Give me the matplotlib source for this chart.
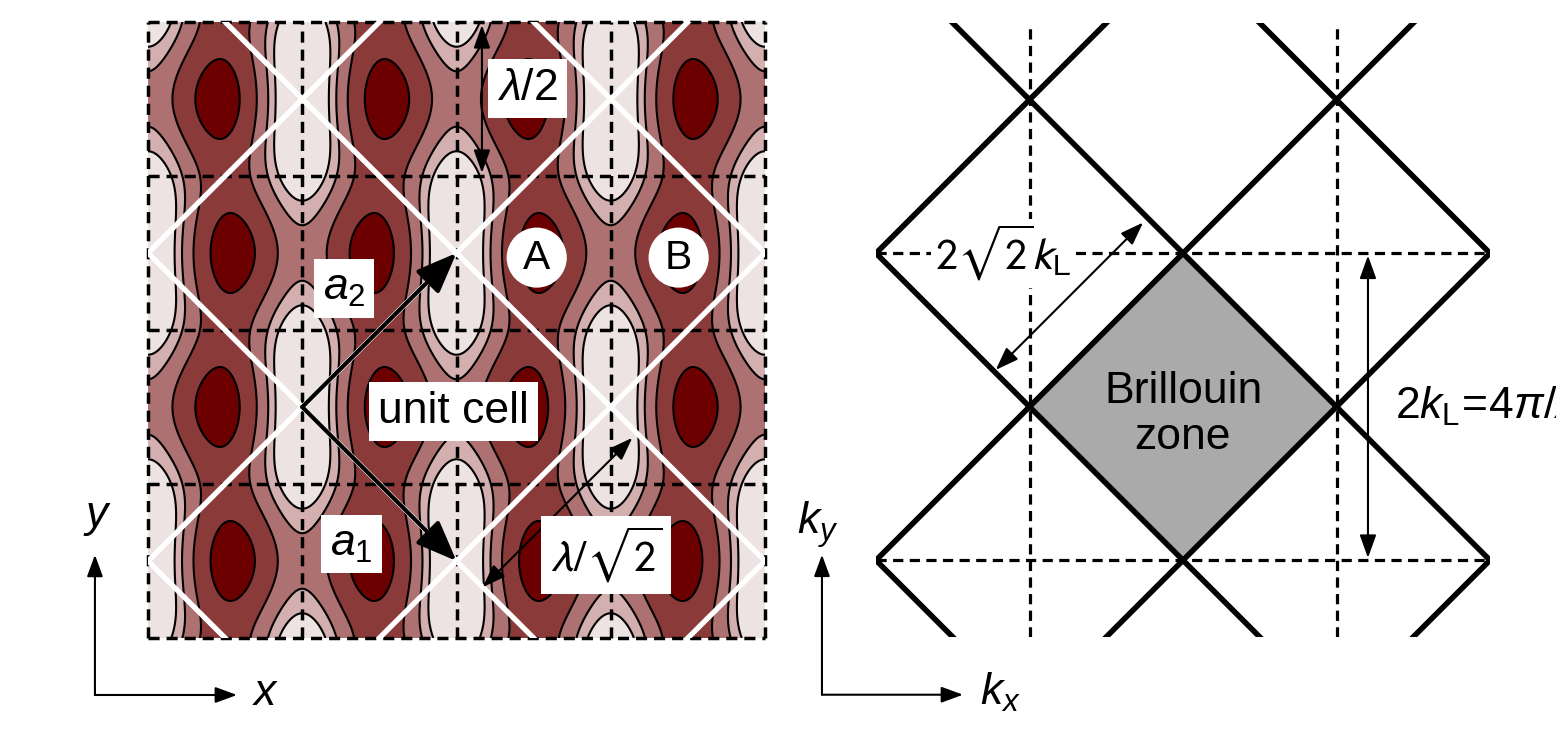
import numpy as np
import matplotlib.pyplot as plt
from matplotlib.colors import ListedColormap
from matplotlib.patches import Polygon, Circle

plt.rcParams['font.family'] = 'Liberation Sans'
plt.rcParams['mathtext.fontset'] = 'custom'
plt.rcParams['mathtext.rm'] = 'Liberation Sans'
plt.rcParams['mathtext.it'] = 'Liberation Sans:italic'
plt.rcParams['mathtext.bf'] = 'Liberation Sans:bold'

# real-space lattice, lengths in units of lambda/2
amp_stripe = 6.8      # standing wave along x
amp_row = 1.4         # extra depth along the site rows
amp_x = 1.0           # interfering x arm
amp_y = 1.0           # interfering y arm
levels = [-0.1, 2.2, 3.4, 5.4, 8.0, 10.5]
band_colors = ['#eee3e3', '#d3afaf', '#ad7171', '#8b3a3a', '#6c0000']

grid_lines = [0, 1, 2, 3, 4]
white_sum = [0.5, 2.5, 4.5, 6.5]     # x + y = c
white_diff = [-3.5, -1.5, 0.5, 2.5]  # y - x = c

cell_origin = (1.0, 1.5)
a1 = (1.0, -1.0)
a2 = (1.0, 1.0)

site_names = ['A', 'B']
site_u = [2.52, 3.44]
site_v = [2.47, 2.47]

# reciprocal lattice, units of k_L
bz_lines = [-3, -1, 1, 3]      # kx +- ky = c
bz_grid = [-1, 1]
bz_corners = [(-1, 0), (0, 1), (1, 0), (0, -1)]

FS = 32
DASH = (0, (3.2, 2.0))

fig = plt.figure(figsize=(15.56, 7.48), dpi=100)

# ---------------- left: potential ----------------
ax = fig.add_axes([148 / 1556, 110 / 748, 617 / 1556, 616 / 748])
ax.set_xlim(0, 4)
ax.set_ylim(0, 4)
ax.axis('off')

u, v = np.meshgrid(np.linspace(0, 4, 700), np.linspace(0, 4, 700))
vp = v - 0.5
pot = np.sin(np.pi * u) ** 2 * (amp_stripe + amp_row * np.sin(np.pi * v) ** 2) + \
    (amp_x * np.cos(np.pi * u) - amp_y * np.cos(np.pi * vp)) ** 2

ax.contourf(u, v, pot, levels=levels, cmap=ListedColormap(band_colors))
ax.contour(u, v, pot, levels=levels[1:-1], colors='k', linewidths=1.5)

t = np.array([-6, 10])
for c in white_sum:
    ax.plot(t, c - t, color='white', lw=3.8, zorder=3)
for c in white_diff:
    ax.plot(t, c + t, color='white', lw=3.8, zorder=3)

for g in grid_lines:
    ax.plot([g, g], [0, 4], color='k', lw=2.5, ls=DASH, clip_on=False, zorder=2)
    ax.plot([0, 4], [g, g], color='k', lw=2.5, ls=DASH, clip_on=False, zorder=2)

for vec in (a1, a2):
    ax.annotate('', xy=(cell_origin[0] + vec[0], cell_origin[1] + vec[1]),
                xytext=cell_origin,
                arrowprops=dict(arrowstyle='-|>,head_length=0.55,head_width=0.22',
                                lw=3, color='k', shrinkA=0, shrinkB=0,
                                mutation_scale=45), zorder=5)

box = dict(boxstyle='square,pad=0.2', fc='white', ec='none')
ax.text(1.27, 2.27, r'$a_2$', fontsize=FS, ha='center', va='center', bbox=box, zorder=6)
ax.text(1.32, 0.61, r'$a_1$', fontsize=FS, ha='center', va='center', bbox=box, zorder=6)
ax.text(1.98, 1.47, 'unit cell', fontsize=FS, ha='center', va='center', bbox=box, zorder=6)

for name, su, sv in zip(site_names, site_u, site_v):
    ax.add_patch(Circle((su, sv), 0.195, fc='white', ec='none', zorder=6))
    ax.text(su, sv, name, fontsize=FS * 0.92, ha='center', va='center', zorder=7)

dbl = dict(arrowstyle='<|-|>,head_length=0.5,head_width=0.18', lw=1.5, color='k',
           shrinkA=0, shrinkB=0, mutation_scale=28)
ax.annotate('', xy=(2.165, 3.98), xytext=(2.165, 3.02), arrowprops=dbl, zorder=5)
ax.text(2.46, 3.57, r'$\lambda/2$', fontsize=FS, ha='center', va='center', bbox=box, zorder=6)
ax.annotate('', xy=(3.14, 1.30), xytext=(2.17, 0.33), arrowprops=dbl, zorder=5)
ax.text(2.97, 0.54, r'$\lambda/\sqrt{2}$', fontsize=FS, ha='center', va='center',
        bbox=box, zorder=6, math_fontfamily='stixsans')

ax_arrow = dict(arrowstyle='-|>,head_length=0.6,head_width=0.22', lw=1.5, color='k',
                shrinkA=0, shrinkB=0, mutation_scale=22)
ax.annotate('', xy=(-0.344, 0.54), xytext=(-0.344, -0.37), arrowprops=ax_arrow,
            annotation_clip=False)
ax.annotate('', xy=(0.577, -0.37), xytext=(-0.344, -0.37), arrowprops=ax_arrow,
            annotation_clip=False)
ax.text(-0.33, 0.78, r'$y$', fontsize=FS, ha='center', va='center', clip_on=False)
ax.text(0.76, -0.36, r'$x$', fontsize=FS, ha='center', va='center', clip_on=False)

# ---------------- right: reciprocal lattice ----------------
bx = fig.add_axes([876 / 1556, 111 / 748, 614 / 1556, 614 / 748])
bx.set_xlim(-2, 2)
bx.set_ylim(-1.5, 2.5)
bx.axis('off')

bx.add_patch(Polygon(bz_corners, closed=True, fc='#aaaaaa', ec='none', zorder=1))
for c in bz_lines:
    bx.plot(t, c - t, color='k', lw=4.0, zorder=3, solid_capstyle='butt')
    bx.plot(t, c + t, color='k', lw=4.0, zorder=3, solid_capstyle='butt')
for g in bz_grid:
    bx.plot([g, g], [-1.5, 2.5], color='k', lw=2.3, ls=DASH, zorder=2)
    bx.plot([-2, 2], [g, g], color='k', lw=2.3, ls=DASH, zorder=2)

bx.text(0, -0.05, 'Brillouin\nzone', fontsize=FS, ha='center', va='center',
        linespacing=1.15, zorder=4)

bx.annotate('', xy=(-0.26, 1.20), xytext=(-1.22, 0.24), arrowprops=dbl, zorder=5)
bx.text(-1.17, 1.0, r'$2\sqrt{2}k_\mathrm{L}$', fontsize=FS, ha='center', va='center',
        bbox=dict(boxstyle='square,pad=0.1', fc='white', ec='none'), zorder=6,
        math_fontfamily='stixsans')

bx.annotate('', xy=(1.205, 0.985), xytext=(1.205, -0.985), arrowprops=dbl, zorder=5)
bx.text(1.38, 0.0, r'$2k_\mathrm{L}\!=\!4\pi/\lambda$', fontsize=FS, ha='left',
        va='center', clip_on=False)

bx.annotate('', xy=(-2.352, -0.964), xytext=(-2.352, -1.876), arrowprops=ax_arrow,
            annotation_clip=False)
bx.annotate('', xy=(-1.433, -1.876), xytext=(-2.352, -1.876), arrowprops=ax_arrow,
            annotation_clip=False)
bx.text(-2.38, -0.77, r'$k_y$', fontsize=FS, ha='center', va='center', clip_on=False)
bx.text(-1.19, -1.86, r'$k_x$', fontsize=FS, ha='center', va='center', clip_on=False)

fig.savefig('out.png', dpi=100)
